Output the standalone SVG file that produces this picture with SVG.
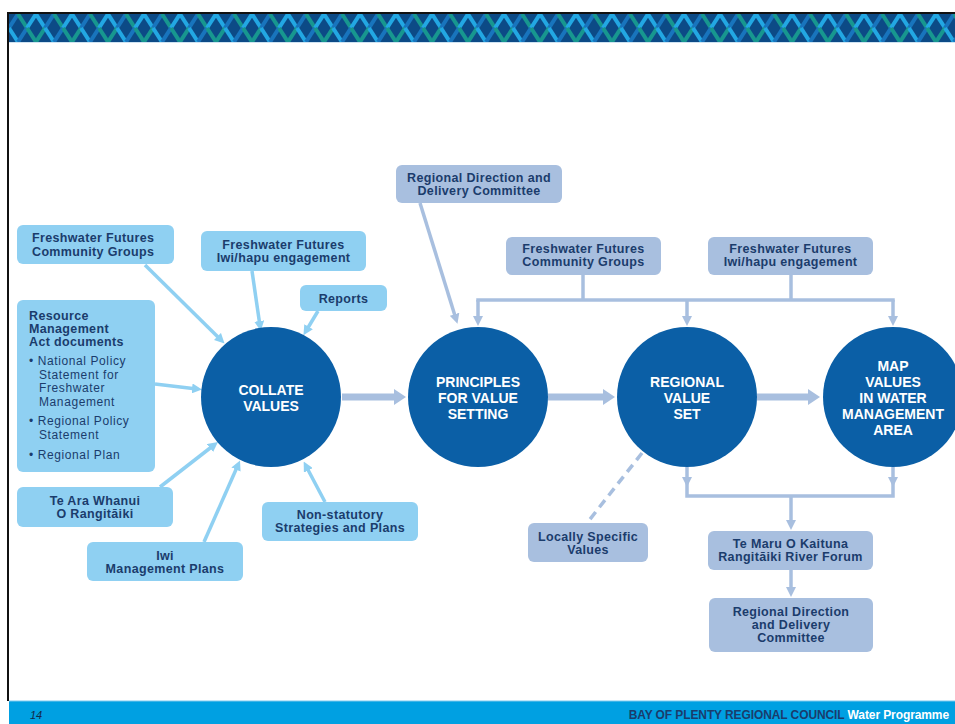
<svg xmlns="http://www.w3.org/2000/svg" width="955" height="724" viewBox="0 0 955 724">
<style>
.lb{fill:#8fd0f2}
.sb{fill:#a8bfdf}
.t{font-family:"Liberation Sans",Arial,sans-serif;font-weight:bold;font-size:12.5px;fill:#1b3c6c;letter-spacing:0.35px}
.tr{font-family:"Liberation Sans",Arial,sans-serif;font-size:12px;fill:#1b3c6c;letter-spacing:0.6px}
.c{fill:#0b5fa6}
.ct{font-family:"Liberation Sans",Arial,sans-serif;font-weight:bold;font-size:14px;fill:#ffffff;text-anchor:middle}
.mid{text-anchor:middle}
.la{stroke:#8fd0f2;stroke-width:3.5;fill:none}
.sa{stroke:#a8bfdf;stroke-width:3.5;fill:none}
.ma{stroke:#a8bfdf;stroke-width:7;fill:none}
</style>
<defs>
<pattern id="weave" x="0" y="14" width="36" height="28" patternUnits="userSpaceOnUse">
<rect width="36" height="28" fill="#0c4a86"/>
<g stroke-width="4" stroke-linecap="butt">
<line x1="0" y1="0" x2="9" y2="14" stroke="#22a7e3"/>
<line x1="18" y1="0" x2="9" y2="14" stroke="#1874bd"/>
<line x1="9" y1="14" x2="0" y2="28" stroke="#17978f"/>
<line x1="9" y1="14" x2="18" y2="28" stroke="#22a7e3"/>
<line x1="18" y1="0" x2="27" y2="14" stroke="#17978f"/>
<line x1="36" y1="0" x2="27" y2="14" stroke="#22a7e3"/>
<line x1="27" y1="14" x2="18" y2="28" stroke="#1874bd"/>
<line x1="27" y1="14" x2="36" y2="28" stroke="#17978f"/>
</g>
</pattern>
<marker id="mBig" viewBox="0 0 12 16" refX="6" refY="8" markerWidth="12" markerHeight="16" markerUnits="userSpaceOnUse" orient="auto">
<path d="M0,0 L12,8 L0,16 z" fill="#a8bfdf"/>
</marker>
<marker id="mL" viewBox="0 0 10 10" refX="5" refY="5" markerWidth="10" markerHeight="10" markerUnits="userSpaceOnUse" orient="auto">
<path d="M0,0 L10,5 L0,10 z" fill="#8fd0f2"/>
</marker>
<marker id="mS" viewBox="0 0 10 10" refX="5" refY="5" markerWidth="10" markerHeight="10" markerUnits="userSpaceOnUse" orient="auto">
<path d="M0,0 L10,5 L0,10 z" fill="#a8bfdf"/>
</marker>
</defs>

<rect x="0" y="0" width="955" height="724" fill="#ffffff"/>
<!-- frame & banner -->
<rect x="8" y="14" width="947" height="28" fill="url(#weave)"/>
<line x1="8" y1="42.5" x2="955" y2="42.5" stroke="#cfe3f2" stroke-width="1"/>
<line x1="7" y1="13" x2="955" y2="13" stroke="#111" stroke-width="2"/>
<line x1="8" y1="12" x2="8" y2="701" stroke="#111" stroke-width="2"/>
<rect x="9" y="701" width="946" height="23" fill="#00a0e2"/>
<line x1="9" y1="701" x2="955" y2="701" stroke="#7cc8ee" stroke-width="1"/>
<text x="30" y="719" font-family="Liberation Sans,Arial,sans-serif" font-style="italic" font-size="11" fill="#14284a">14</text>
<text x="949" y="719" text-anchor="end" font-family="Liberation Sans,Arial,sans-serif" font-weight="bold" font-size="12" letter-spacing="-0.1"><tspan fill="#1b3c6c">BAY OF PLENTY REGIONAL COUNCIL </tspan><tspan fill="#ffffff">Water Programme</tspan></text>

<!-- connectors -->
<g id="connectors">
<line class="la" x1="145" y1="265" x2="221" y2="340" marker-end="url(#mL)"/>
<line class="la" x1="252" y1="271" x2="260" y2="326" marker-end="url(#mL)"/>
<line class="la" x1="318" y1="311" x2="306" y2="331" marker-end="url(#mL)"/>
<line class="la" x1="155" y1="384" x2="197" y2="389" marker-end="url(#mL)"/>
<line class="la" x1="160" y1="487" x2="214" y2="445" marker-end="url(#mL)"/>
<line class="la" x1="204" y1="542" x2="238" y2="465" marker-end="url(#mL)"/>
<line class="la" x1="325" y1="502" x2="306" y2="466" marker-end="url(#mL)"/>

<line class="ma" x1="342" y1="397" x2="400" y2="397" marker-end="url(#mBig)"/>
<line class="ma" x1="548" y1="397" x2="609" y2="397" marker-end="url(#mBig)"/>
<line class="ma" x1="757" y1="397" x2="814" y2="397" marker-end="url(#mBig)"/>

<line class="sa" x1="420" y1="203" x2="456" y2="319" marker-end="url(#mS)"/>
<polyline class="sa" points="583,275 583,300"/>
<polyline class="sa" points="791,275 791,300"/>
<line class="sa" x1="476.25" y1="300" x2="894.75" y2="300"/>
<line class="sa" x1="478" y1="300" x2="478" y2="321" marker-end="url(#mS)"/>
<line class="sa" x1="687" y1="300" x2="687" y2="321" marker-end="url(#mS)"/>
<line class="sa" x1="893" y1="300" x2="893" y2="321" marker-end="url(#mS)"/>

<line class="sa" x1="687" y1="467" x2="687" y2="482" marker-end="url(#mS)"/>
<line class="sa" x1="893" y1="467" x2="893" y2="482" marker-end="url(#mS)"/>
<polyline class="sa" points="687,478 687,496 893,496 893,478"/>
<line class="sa" x1="791" y1="496" x2="791" y2="525" marker-end="url(#mS)"/>
<line class="sa" x1="791" y1="570" x2="791" y2="592" marker-end="url(#mS)"/>
<line class="sa" x1="642" y1="453" x2="587" y2="523" stroke-dasharray="9,6"/>
</g>

<!-- circles -->
<g id="collate"><circle class="c" cx="271" cy="397" r="70"/>
<text class="ct" x="271" y="395">COLLATE</text><text class="ct" x="271" y="411">VALUES</text></g>
<g id="principles"><circle class="c" cx="478" cy="397" r="70"/>
<text class="ct" x="478" y="387">PRINCIPLES</text><text class="ct" x="478" y="403">FOR VALUE</text><text class="ct" x="478" y="419">SETTING</text></g>
<g id="regional"><circle class="c" cx="687" cy="397" r="70"/>
<text class="ct" x="687" y="387">REGIONAL</text><text class="ct" x="687" y="403">VALUE</text><text class="ct" x="687" y="419">SET</text></g>
<g id="map"><circle class="c" cx="893" cy="397" r="70"/>
<text class="ct" x="893" y="371">MAP</text><text class="ct" x="893" y="387">VALUES</text><text class="ct" x="893" y="403">IN WATER</text><text class="ct" x="893" y="419">MANAGEMENT</text><text class="ct" x="893" y="435">AREA</text></g>

<!-- left inputs -->
<g id="ff-community-left"><rect class="lb" x="17" y="225" width="157" height="39" rx="6"/>
<text class="t" x="32" y="242">Freshwater Futures</text><text class="t" x="32" y="256">Community Groups</text></g>
<g id="ff-iwi-left"><rect class="lb" x="201" y="231" width="165" height="40" rx="6"/>
<text class="t mid" x="283.5" y="249">Freshwater Futures</text><text class="t mid" x="283.5" y="262">Iwi/hapu engagement</text></g>
<g id="reports"><rect class="lb" x="300" y="285" width="87" height="26" rx="6"/>
<text class="t mid" x="343.5" y="303">Reports</text></g>
<g id="rma"><rect class="lb" x="17" y="300" width="138" height="172" rx="6"/>
<text class="t" x="29" y="320">Resource</text><text class="t" x="29" y="333">Management</text><text class="t" x="29" y="346">Act documents</text>
<text class="tr" x="29" y="365">• National Policy</text><text class="tr" x="39" y="378.5">Statement for</text><text class="tr" x="39" y="392">Freshwater</text><text class="tr" x="39" y="405.5">Management</text>
<text class="tr" x="29" y="425">• Regional Policy</text><text class="tr" x="39" y="438.5">Statement</text>
<text class="tr" x="29" y="459">• Regional Plan</text></g>
<g id="te-ara"><rect class="lb" x="17" y="487" width="156" height="40" rx="6"/>
<text class="t mid" x="95" y="505">Te Ara Whanui</text><text class="t mid" x="95" y="518">O Rangitāiki</text></g>
<g id="iwi-plans"><rect class="lb" x="87" y="542" width="156" height="39" rx="6"/>
<text class="t mid" x="165" y="560">Iwi</text><text class="t mid" x="165" y="573">Management Plans</text></g>
<g id="non-statutory"><rect class="lb" x="262" y="502" width="156" height="39" rx="6"/>
<text class="t mid" x="340" y="519">Non-statutory</text><text class="t mid" x="340" y="532">Strategies and Plans</text></g>

<!-- right side boxes -->
<g id="rddc-top"><rect class="sb" x="396" y="165" width="166" height="38" rx="6"/>
<text class="t mid" x="479" y="182">Regional Direction and</text><text class="t mid" x="479" y="195">Delivery Committee</text></g>
<g id="ff-community-right"><rect class="sb" x="506" y="237" width="155" height="38" rx="6"/>
<text class="t mid" x="583.5" y="253">Freshwater Futures</text><text class="t mid" x="583.5" y="266">Community Groups</text></g>
<g id="ff-iwi-right"><rect class="sb" x="708" y="237" width="165" height="38" rx="6"/>
<text class="t mid" x="790.5" y="253">Freshwater Futures</text><text class="t mid" x="790.5" y="266">Iwi/hapu engagement</text></g>
<g id="locally-specific"><rect class="sb" x="528" y="523" width="120" height="39" rx="6"/>
<text class="t mid" x="588" y="541">Locally Specific</text><text class="t mid" x="588" y="554">Values</text></g>
<g id="te-maru"><rect class="sb" x="708" y="531" width="165" height="39" rx="6"/>
<text class="t mid" x="790.5" y="548">Te Maru O Kaituna</text><text class="t mid" x="790.5" y="561">Rangitāiki River Forum</text></g>
<g id="rddc-bottom"><rect class="sb" x="709" y="598" width="164" height="54" rx="6"/>
<text class="t mid" x="791" y="616">Regional Direction</text><text class="t mid" x="791" y="629">and Delivery</text><text class="t mid" x="791" y="642">Committee</text></g>
</svg>
